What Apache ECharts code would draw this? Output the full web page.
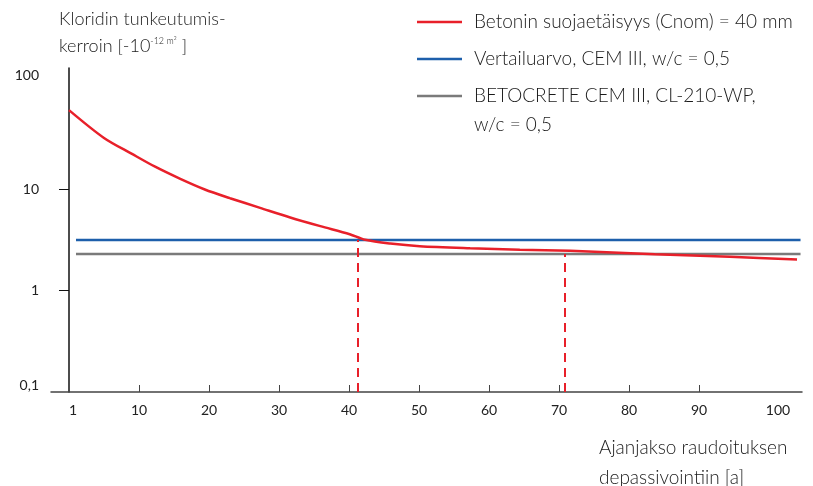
<!DOCTYPE html>
<html>
<head>
<meta charset="utf-8">
<script src="https://cdn.jsdelivr.net/npm/echarts@6/dist/echarts.min.js"></script>
<style>html,body{margin:0;padding:0;background:#fff;}#c{width:813px;height:486px;}</style>
</head>
<body>
<div id="c"></div>
<script>
// ---- data ----
const redName = 'Betonin suojaetäisyys (Cnom) = 40 mm';
const blueName = 'Vertailuarvo, CEM III, w/c = 0,5';
const grayName = 'BETOCRETE CEM III, CL-210-WP, w/c = 0,5';

const redYears  = [0, 5, 9, 12.3, 15.9, 19.4, 23, 27.3, 31.6, 35.9, 40.1, 42.3, 45.9, 50.1, 57.3, 64.4, 71.6, 83.7, 94.4, 104];
const redValues = [60, 31.9, 22.2, 16.6, 12.6, 9.9, 8.13, 6.53, 5.25, 4.31, 3.59, 3.16, 2.9, 2.73, 2.61, 2.53, 2.46, 2.28, 2.15, 2.02];

const blueYears = [1, 104.5];
const blueValues = [3.15, 3.15];
const grayYears = [1, 104.5];
const grayValues = [2.29, 2.29];

const dashYears = [41.3, 70.8];
const dashTops = [3.15, 2.29];

const xLabelValues = [1, 10, 20, 30, 40, 50, 60, 70, 80, 90, 100];
const xTickValues = [10, 20, 30, 40, 50, 60, 70, 80, 90];
const yLabelValues = [0.1, 1, 10, 100];
const yTickValues = [1, 10];

const FONT = 'Lato';
const chart = echarts.init(document.getElementById('c'));

function zip(a, b) { return a.map((v, i) => [v, b[i]]); }

const legendBase = {
  orient: 'vertical', left: 417, padding: 0, itemWidth: 45, itemHeight: 2.5,
  icon: 'rect', selectedMode: false,
  textStyle: { fontFamily: FONT, fontSize: 19, fontWeight: 300, color: '#1a1a1a', lineHeight: 29, padding: [0, 0, 0, 7] }
};

chart.setOption({
  animation: false,
  grid: { left: 51, right: 11, top: 68, bottom: 94, containLabel: false },
  legend: [
    Object.assign({}, legendBase, { top: 7.5, data: [redName] }),
    Object.assign({}, legendBase, { top: 44.5, data: [blueName] }),
    Object.assign({}, legendBase, { top: 52.5, data: [grayName],
      formatter: () => '\nBETOCRETE CEM III, CL-210-WP,\nw/c = 0,5' })
  ],
  xAxis: {
    type: 'value', min: -2.571, max: 104.71,
    splitLine: { show: false },
    axisLine: { lineStyle: { color: '#444', width: 1.5 } },
    axisTick: { inside: true, length: 7, customValues: xTickValues, lineStyle: { color: '#444', width: 1 } },
    axisLabel: {
      customValues: xLabelValues, margin: 11,
      fontFamily: FONT, fontSize: 14, color: '#222',
      formatter: v => v === 100 ? '{r|100}' : (v === 1 ? '{l|1}' : String(v)),
      rich: {
        r: { fontFamily: FONT, fontSize: 14, color: '#222', padding: [0, 0, 0, 18] },
        l: { fontFamily: FONT, fontSize: 14, color: '#222', padding: [0, 6, 0, 0] }
      }
    }
  },
  yAxis: {
    type: 'log', logBase: 10, min: 0.1, max: 156, offset: -8,
    splitLine: { show: false },
    axisLine: { show: true, lineStyle: { color: '#111', width: 1.5 } },
    axisTick: { show: true, length: 10, customValues: yTickValues, lineStyle: { color: '#111', width: 1 } },
    axisLabel: {
      customValues: yLabelValues, margin: 20,
      fontFamily: FONT, fontSize: 14, color: '#222',
      formatter: v => {
        if (Math.abs(v - 100) < 1e-6) return '{t|100}';
        if (Math.abs(v - 0.1) < 1e-6) return '{b|0,1}';
        return String(Math.round(v));
      },
      rich: {
        t: { fontFamily: FONT, fontSize: 14, color: '#222', padding: [0, 0, 24, 0] },
        b: { fontFamily: FONT, fontSize: 14, color: '#222', padding: [0, 0, 14, 0] }
      }
    }
  },
  graphic: [
    {
      type: 'text', left: 59, top: 6,
      style: {
        text: 'Kloridin tunkeutumis-\nkerroin [-10{s|-12 m²} ]',
        fontFamily: FONT, fontSize: 18, fontWeight: 300, fill: '#1a1a1a', lineHeight: 27,
        rich: { s: { fontFamily: FONT, fontSize: 9, fontWeight: 300, fill: '#1a1a1a', verticalAlign: 'middle', padding: [0, 0, 11, 0] } }
      }
    },
    {
      type: 'text', left: 599, top: 433,
      style: {
        text: 'Ajanjakso raudoituksen\ndepassivointiin [a]',
        fontFamily: FONT, fontSize: 19, fontWeight: 300, fill: '#1a1a1a', lineHeight: 30
      }
    }
  ],
  series: [
    {
      name: blueName, type: 'line', data: zip(blueYears, blueValues), symbol: 'none',
      lineStyle: { color: '#1d5fab', width: 2.5 }, itemStyle: { color: '#1d5fab' }, z: 2
    },
    {
      name: grayName, type: 'line', data: zip(grayYears, grayValues), symbol: 'none',
      lineStyle: { color: '#7a7a7a', width: 2.5 }, itemStyle: { color: '#7a7a7a' }, z: 2
    },
    {
      name: redName, type: 'line', data: zip(redYears, redValues), symbol: 'none',
      smooth: 0.3,
      lineStyle: { color: '#e8202a', width: 2.5 }, itemStyle: { color: '#e8202a' }, z: 3,
      markLine: {
        silent: true, symbol: 'none', label: { show: false },
        lineStyle: { color: '#e8202a', width: 2, type: [9, 6] },
        data: dashYears.map((x, i) => [{ coord: [x, 0.1] }, { coord: [x, dashTops[i]] }])
      }
    }
  ]
});
</script>
</body>
</html>
